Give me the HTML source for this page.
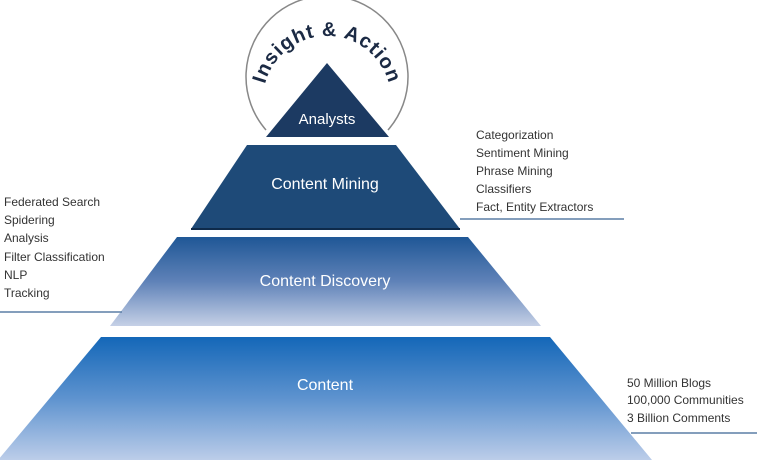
<!DOCTYPE html>
<html><head><style>
html,body{margin:0;padding:0;background:#fff;}
svg{display:block;}
text{font-family:"Liberation Sans",sans-serif;}
</style></head><body>
<svg width="776" height="460" viewBox="0 0 776 460" xmlns="http://www.w3.org/2000/svg">
<defs>
<linearGradient id="gd" x1="0" y1="0" x2="0" y2="1">
<stop offset="0" stop-color="#1f5796"/><stop offset="0.5" stop-color="#5f82b8"/><stop offset="1" stop-color="#c5d0e6"/>
</linearGradient>
<linearGradient id="gc" x1="0" y1="0" x2="0" y2="1">
<stop offset="0" stop-color="#1467b8"/><stop offset="0.5" stop-color="#5e93cf"/><stop offset="1" stop-color="#bccde9"/>
</linearGradient>
<path id="arc" d="M263,100 A64,64 0 1,1 391,100"/>
</defs>
<path d="M266,130 A81,81 0 1,1 388,130" fill="none" stroke="#888" stroke-width="1.5"/>
<text font-size="20" font-weight="bold" fill="#1b2a44" letter-spacing="1"><textPath href="#arc" startOffset="50%" text-anchor="middle">Insight &amp; Action</textPath></text>
<polygon points="327,63 389,137 266,137" fill="#1c3a62"/>
<text x="327" y="124" font-size="15" fill="#fff" text-anchor="middle">Analysts</text>
<polygon points="247,145 396,145 460,229 191,229" fill="#1e4a78"/>
<line x1="191" y1="229" x2="460" y2="229" stroke="#0e2a4a" stroke-width="2"/>
<text x="325" y="189" font-size="16" fill="#fff" text-anchor="middle">Content Mining</text>
<polygon points="177,237 468,237 541,326 110,326" fill="url(#gd)"/>
<text x="325" y="286" font-size="16" fill="#fff" text-anchor="middle">Content Discovery</text>
<polygon points="101,337 550,337 652,460 -2,460" fill="url(#gc)"/>
<text x="325" y="390" font-size="16" fill="#fff" text-anchor="middle">Content</text>
<line x1="460" y1="219" x2="624" y2="219" stroke="#5b7fa6" stroke-width="1.5"/>
<line x1="0" y1="312" x2="122" y2="312" stroke="#5b7fa6" stroke-width="1.5"/>
<line x1="631" y1="433" x2="757" y2="433" stroke="#5b7fa6" stroke-width="1.5"/>
<g font-size="12" fill="#333">
<text x="476" y="139">Categorization</text>
<text x="476" y="157">Sentiment Mining</text>
<text x="476" y="175">Phrase Mining</text>
<text x="476" y="193">Classifiers</text>
<text x="476" y="211">Fact, Entity Extractors</text>
<text x="4" y="206">Federated Search</text>
<text x="4" y="224">Spidering</text>
<text x="4" y="242">Analysis</text>
<text x="4" y="261">Filter Classification</text>
<text x="4" y="279">NLP</text>
<text x="4" y="297">Tracking</text>
<text x="627" y="387">50 Million Blogs</text>
<text x="627" y="404">100,000 Communities</text>
<text x="627" y="422">3 Billion Comments</text>
</g>
</svg>
</body></html>
